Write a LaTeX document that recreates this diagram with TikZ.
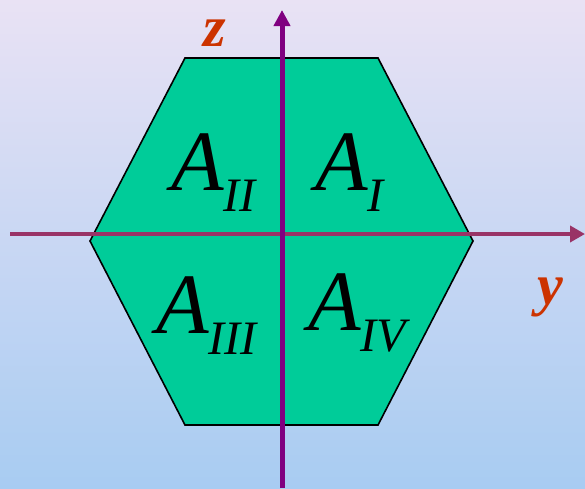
\documentclass[tikz,border=0pt]{standalone}
\usepackage{fontspec}
\setmainfont{Liberation Serif}
\usetikzlibrary{arrows.meta}
\definecolor{sheetgreen}{HTML}{00CC99}
\definecolor{axisplum}{HTML}{993366}
\definecolor{axispurple}{HTML}{800080}
\definecolor{labelred}{HTML}{CC3300}
\definecolor{skytop}{HTML}{E9E2F4}
\definecolor{skybottom}{HTML}{A8CCF2}
\newcommand{\areaname}[1]{\fontsize{86}{86}\selectfont A\raisebox{-21pt}{\fontsize{48}{48}\selectfont #1}}

\begin{document}
\begin{tikzpicture}[
  x=1pt,
  y=-1pt,
  every node/.style={inner sep=0pt, font=\itshape},
  hexagon/.style={fill=sheetgreen, draw=black, line width=1.6pt, line join=miter},
  yaxis/.style={axisplum, line width=4pt, -{Triangle[length=15pt, width=16pt]}},
  zaxis/.style={axispurple, line width=5pt, -{Triangle[length=16pt, width=16pt]}},
  axisname/.style={anchor=base west, labelred, font=\fontsize{58}{58}\selectfont\bfseries\itshape},
  area/.style={anchor=base west}
]
  % ---- background -----------------------------------------------------
  \useasboundingbox (0,0) rectangle (585,488);
  \fill[top color=skytop, bottom color=skybottom] (0,0) rectangle (585,488);

  % ---- the hexagonal section ------------------------------------------
  \draw[hexagon] (185,58) -- (378,58) -- (473,241) -- (378,425)
    -- (185,425) -- (90,241) -- cycle;

  % ---- axes -----------------------------------------------------------
  \coordinate (yfrom) at (10,234);
  \coordinate (yto) at (585,234);
  \coordinate (zfrom) at (282,488);
  \coordinate (zto) at (282,10);
  \draw[yaxis] (yfrom) -- (yto);
  \draw[zaxis] (zfrom) -- (zto);

  \node[axisname] (zname) at (203,46) {z};
  \node[axisname] (yname) at (537,304) {y};

  % ---- the four quadrant areas ----------------------------------------
  \node[area] (areaII) at (171,190) {\areaname{II}};
  \node[area] (areaI) at (315,190) {\areaname{I}};
  \node[area] (areaIII) at (156,333) {\areaname{III}};
  \node[area] (areaIV) at (308,330) {\areaname{IV}};
\end{tikzpicture}
\end{document}
